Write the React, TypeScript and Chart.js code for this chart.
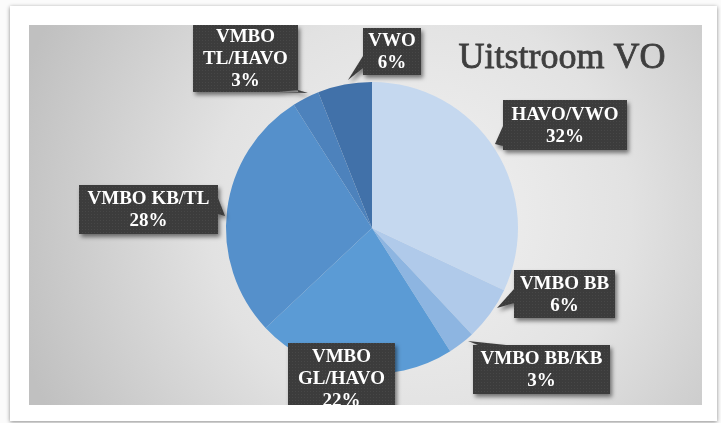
import React, { useEffect, useRef } from "react";
import { Chart, registerables } from "chart.js";

Chart.register(...registerables);

// ---- data ----
const categories = ["HAVO/VWO", "VMBO BB", "VMBO BB/KB", "VMBO GL/HAVO", "VMBO KB/TL", "VMBO TL/HAVO", "VWO"];
const values = [32, 6, 3, 22, 28, 3, 6];
const sliceColors = ["#c5d8ef", "#b0caea", "#8db5e1", "#5b9bd5", "#5590cb", "#4d82bc", "#4171a9"];
const chartTitle = "Uitstroom VO";
// where a category name is wrapped onto two lines inside its callout
const wrapAfterFirstWord = [false, false, false, true, false, true, false];

// ---- layout of callouts (box x,y,w,h ; tail base1, base2, tip) ----
const calloutLayout: { box: number[]; tail: number[][] | null }[] = [
  { box: [503, 100, 124, 50], tail: [[503, 126], [503, 146], [495, 144]] },
  { box: [514, 270, 101, 48], tail: [[514, 289], [514, 303], [497, 308]] },
  { box: [473, 345, 137, 49], tail: [[478, 345], [506, 345], [468, 341]] },
  { box: [288, 343, 107, 71], tail: null },
  { box: [79, 185, 139, 49], tail: [[218, 198], [218, 214], [225, 216]] },
  { box: [193, 25, 105, 67], tail: [[278, 92], [298, 90], [308, 93]] },
  { box: [363, 28, 58, 47], tail: [[363, 56], [363, 68], [348, 80]] },
];

const FRAME = { x: 10, y: 6, w: 707, h: 415 };
const PLOT = { x: 29, y: 25, w: 673, h: 380 };

function makePattern(ctx: CanvasRenderingContext2D) {
  const c = document.createElement("canvas");
  c.width = 3;
  c.height = 3;
  const p = c.getContext("2d")!;
  p.fillStyle = "#3c3c3c";
  p.fillRect(0, 0, 3, 3);
  p.fillStyle = "#474747";
  p.fillRect(1, 1, 1, 1);
  return ctx.createPattern(c, "repeat");
}

const backgroundPlugin = {
  id: "bgFrame",
  beforeDraw(chart: any) {
    const ctx: CanvasRenderingContext2D = chart.ctx;
    ctx.save();
    ctx.fillStyle = "#fbfbfb";
    ctx.fillRect(0, 0, chart.width, chart.height);
    // frame with shadow
    ctx.shadowColor = "rgba(0,0,0,0.45)";
    ctx.shadowBlur = 4;
    ctx.shadowOffsetX = 0;
    ctx.shadowOffsetY = 1;
    ctx.fillStyle = "#ffffff";
    ctx.fillRect(FRAME.x, FRAME.y, FRAME.w, FRAME.h);
    ctx.shadowColor = "transparent";
    // gray gradient plot area
    const g = ctx.createRadialGradient(420, 215, 0, 420, 215, 420);
    g.addColorStop(0, "#f2f2f2");
    g.addColorStop(0.5, "#e2e2e2");
    g.addColorStop(1, "#c0c0c0");
    ctx.fillStyle = g;
    ctx.fillRect(PLOT.x, PLOT.y, PLOT.w, PLOT.h);
    ctx.restore();
  },
  afterDraw(chart: any) {
    const ctx: CanvasRenderingContext2D = chart.ctx;
    const total = values.reduce((a, b) => a + b, 0);
    const pattern = makePattern(ctx);
    ctx.save();
    ctx.beginPath();
    ctx.rect(PLOT.x, PLOT.y, PLOT.w, PLOT.h);
    ctx.clip();

    // title
    ctx.fillStyle = "#3f3f3f";
    ctx.strokeStyle = "#3f3f3f";
    ctx.lineWidth = 0.8;
    ctx.font = '36px "Liberation Serif", serif';
    ctx.textAlign = "center";
    ctx.textBaseline = "alphabetic";
    ctx.fillText(chartTitle, 562, 68);
    ctx.strokeText(chartTitle, 562, 68);

    categories.forEach((cat, i) => {
      const L = calloutLayout[i];
      const [x, y, w, h] = L.box;
      ctx.save();
      ctx.shadowColor = "rgba(0,0,0,0.5)";
      ctx.shadowBlur = 4;
      ctx.shadowOffsetX = 2;
      ctx.shadowOffsetY = 3;
      ctx.fillStyle = pattern || "#3c3c3c";
      ctx.beginPath();
      ctx.rect(x, y, w, h);
      if (L.tail) {
        ctx.moveTo(L.tail[0][0], L.tail[0][1]);
        ctx.lineTo(L.tail[2][0], L.tail[2][1]);
        ctx.lineTo(L.tail[1][0], L.tail[1][1]);
        ctx.closePath();
      }
      ctx.fill("nonzero");
      ctx.restore();

      const pct = Math.round((values[i] / total) * 100) + "%";
      let lines: string[];
      if (wrapAfterFirstWord[i]) {
        const idx = cat.indexOf(" ");
        lines = [cat.slice(0, idx), cat.slice(idx + 1), pct];
      } else {
        lines = [cat, pct];
      }
      ctx.fillStyle = "#ffffff";
      ctx.font = 'bold 19px "Liberation Serif", serif';
      ctx.textAlign = "center";
      ctx.textBaseline = "middle";
      const lh = 22;
      const cy = y + h / 2;
      const start = cy - ((lines.length - 1) * lh) / 2;
      lines.forEach((t, k) => ctx.fillText(t, x + w / 2, start + k * lh + 1));
    });
    ctx.restore();
  },
};

export default function App() {
  const ref = useRef<HTMLCanvasElement | null>(null);
  useEffect(() => {
    if (!ref.current) return;
    const chart = new Chart(ref.current, {
      type: "pie",
      data: {
        labels: categories,
        datasets: [
          {
            data: values,
            backgroundColor: sliceColors,
            borderWidth: 0,
          },
        ],
      },
      options: {
        animation: false,
        responsive: false,
        layout: { padding: { left: 226, right: 203, top: 82, bottom: 49 } },
        plugins: {
          legend: { display: false },
          tooltip: { enabled: false },
          title: { display: false },
        },
      },
      plugins: [backgroundPlugin],
    });
    return () => chart.destroy();
  }, []);
  return (
    <div style={{ position: "absolute", left: 0, top: 0, width: 721, height: 423 }}>
      <canvas ref={ref} width={721} height={423} style={{ display: "block", width: 721, height: 423 }} />
    </div>
  );
}
